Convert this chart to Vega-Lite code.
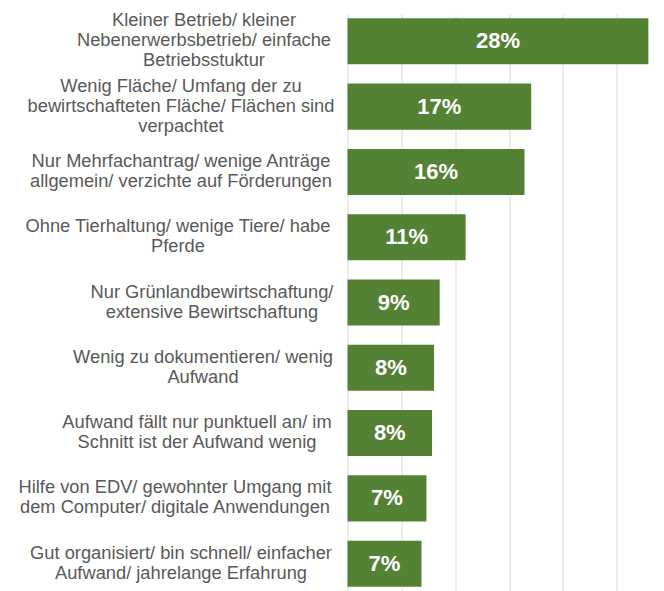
{
  "$schema": "https://vega.github.io/schema/vega-lite/v6.json",
  "width": 316.5,
  "height": 577,
  "autosize": {"type": "none"},
  "padding": {"left": 347.5, "top": 14, "right": 0, "bottom": 0},
  "background": "white",
  "config": {"view": {"stroke": null}, "font": "Liberation Sans"},
  "data": {
    "values": [
      {"label": "Kleiner Betrieb/ kleiner|Nebenerwerbsbetrieb/ einfache|Betriebsstuktur", "value": 27.94, "text": "28%"},
      {"label": "Wenig Fläche/ Umfang der zu|bewirtschafteten Fläche/ Flächen sind|verpachtet", "value": 17.06, "text": "17%"},
      {"label": "Nur Mehrfachantrag/ wenige Anträge|allgemein/ verzichte auf Förderungen", "value": 16.44, "text": "16%"},
      {"label": "Ohne Tierhaltung/ wenige Tiere/ habe|Pferde", "value": 10.97, "text": "11%"},
      {"label": "Nur Grünlandbewirtschaftung/|extensive Bewirtschaftung", "value": 8.56, "text": "9%"},
      {"label": "Wenig zu dokumentieren/ wenig|Aufwand", "value": 8.04, "text": "8%"},
      {"label": "Aufwand fällt nur punktuell an/ im|Schnitt ist der Aufwand wenig", "value": 7.85, "text": "8%"},
      {"label": "Hilfe von EDV/ gewohnter Umgang mit|dem Computer/ digitale Anwendungen", "value": 7.33, "text": "7%"},
      {"label": "Gut organisiert/ bin schnell/ einfacher|Aufwand/ jahrelange Erfahrung", "value": 6.87, "text": "7%"}
    ]
  },
  "transform": [{"calculate": "datum.value / 2", "as": "mid"}],
  "encoding": {
    "y": {
      "field": "label",
      "type": "nominal",
      "sort": null,
      "scale": {"paddingInner": 0.295, "paddingOuter": 0.066},
      "axis": {
        "title": null,
        "domain": false,
        "ticks": false,
        "grid": false,
        "labelExpr": "split(datum.label, '|')",
        "labelFont": "Liberation Sans",
        "labelFontSize": 18.3,
        "labelColor": "#595959",
        "labelLineHeight": 20,
        "labelAlign": "center",
        "labelBaseline": "middle",
        "labelPadding": {"condition": [
          {"test": "indexof(datum.value, 'Hilfe') == 0", "value": 173},
          {"test": "indexof(datum.value, 'Ohne') == 0", "value": 170},
          {"test": "indexof(datum.value, 'Gut') == 0", "value": 167},
          {"test": "indexof(datum.value, 'Wenig F') == 0", "value": 167},
          {"test": "indexof(datum.value, 'Nur M') == 0", "value": 167},
          {"test": "indexof(datum.value, 'Aufwand') == 0", "value": 151},
          {"test": "indexof(datum.value, 'Wenig z') == 0", "value": 145},
          {"test": "indexof(datum.value, 'Kleiner') == 0", "value": 144},
          {"test": "indexof(datum.value, 'Nur G') == 0", "value": 136}
        ], "value": 160},
        "labelOffset": {"condition": {"test": "length(split(datum.value, '|')) > 2", "value": -20}, "value": -10},
        "labelLimit": 0,
        "labelOverlap": false
      }
    }
  },
  "layer": [
    {
      "mark": {"type": "bar", "color": "#548235"},
      "encoding": {
        "x": {
          "field": "value",
          "type": "quantitative",
          "scale": {"domain": [0, 29.39], "nice": false, "zero": true},
          "axis": {
            "title": null,
            "values": [0, 5, 10, 15, 20, 25],
            "grid": true,
            "gridColor": "#d9d9d9",
            "gridWidth": 1,
            "labels": false,
            "ticks": false,
            "domain": false
          }
        }
      }
    },
    {
      "mark": {"type": "text", "color": "white", "fontWeight": "bold", "fontSize": 22, "font": "Liberation Sans", "baseline": "middle", "align": "center"},
      "encoding": {
        "x": {"field": "mid", "type": "quantitative"},
        "text": {"field": "text", "type": "nominal"}
      }
    }
  ]
}
